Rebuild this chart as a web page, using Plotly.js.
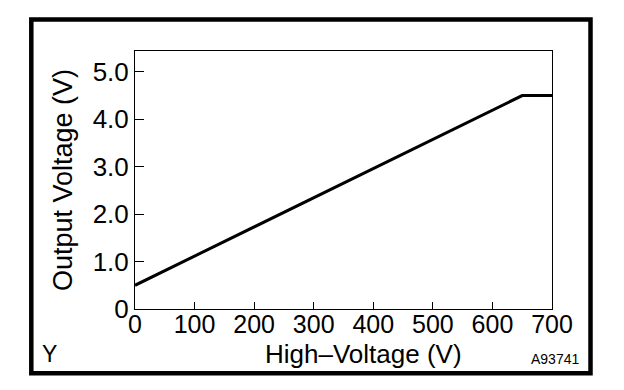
<!DOCTYPE html>
<html>
<head>
<meta charset="utf-8">
<script src="https://cdn.plot.ly/plotly-3.0.1.min.js"></script>
<style>
html,body{margin:0;padding:0;background:#fff;}
#chart{width:624px;height:390px;}
</style>
</head>
<body>
<div id="chart"></div>
<script>
// Data
const highVoltage = [0, 650, 700];
const outputVoltage = [0.5, 4.5, 4.5];
const xTickVals = [0, 100, 200, 300, 400, 500, 600, 700];
const xTickText = ["0", "100", "200", "300", "400", "500", "600", "700"];
const yTickVals = [0, 1, 2, 3, 4, 5];
const yTickText = ["0", "1.0", "2.0", "3.0", "4.0", "5.0"];
const xTitle = "High\u2013Voltage (V)";
const yTitle = "Output Voltage (V)";
const cornerLabel = "Y";
const figureCode = "A93741";

const L = 135, R = 72, T = 51, B = 81;
const W = 624, H = 390;
const pw = W - L - R, ph = H - T - B;
function px(x){ return (x - L) / pw; }
function py(y){ return (H - B - y) / ph; }

const font = "Liberation Sans, Arial, Helvetica, sans-serif";

const trace = {
  x: highVoltage,
  y: outputVoltage,
  type: "scatter",
  mode: "lines",
  line: {color: "#000", width: 3},
  hoverinfo: "skip"
};

const layout = {
  width: W, height: H,
  margin: {l: L, r: R, t: T, b: B},
  paper_bgcolor: "#fff",
  plot_bgcolor: "#fff",
  showlegend: false,
  font: {family: font, color: "#000", size: 26},
  xaxis: {
    range: [0, 700],
    tickvals: xTickVals,
    ticktext: xTickText,
    ticks: "inside",
    ticklen: 7,
    tickwidth: 1,
    tickcolor: "#000",
    ticklabelstandoff: -7,
    showline: true,
    linecolor: "#000",
    linewidth: 1,
    mirror: true,
    showgrid: false,
    zeroline: false,
    tickfont: {family: font, size: 25, color: "#000"},
    fixedrange: true
  },
  yaxis: {
    range: [0, 5.44],
    tickvals: yTickVals,
    ticktext: yTickText,
    ticks: "inside",
    ticklen: 9,
    tickwidth: 1,
    tickcolor: "#000",
    showline: true,
    linecolor: "#000",
    linewidth: 1,
    mirror: true,
    showgrid: false,
    zeroline: false,
    tickfont: {family: font, size: 26, color: "#000"},
    title: {text: yTitle, font: {family: font, size: 27, color: "#000"}, standoff: 12},
    fixedrange: true
  },
  annotations: [
    {text: xTitle, xref: "paper", yref: "paper", x: px(363), y: py(354),
     xanchor: "center", yanchor: "middle", showarrow: false,
     font: {family: font, size: 26, color: "#000"}},
    {text: cornerLabel, xref: "paper", yref: "paper", x: px(49), y: py(354),
     xanchor: "center", yanchor: "middle", showarrow: false,
     font: {family: font, size: 23, color: "#000"}},
    {text: figureCode, xref: "paper", yref: "paper", x: px(555), y: py(359),
     xanchor: "center", yanchor: "middle", showarrow: false,
     font: {family: font, size: 14, color: "#000"}}
  ],
  shapes: [
    {type: "rect", xref: "paper", yref: "paper",
     x0: px(31.3), x1: px(590.5), y0: py(373.3), y1: py(19.5),
     line: {color: "#000", width: 4.5}, fillcolor: "rgba(0,0,0,0)", layer: "above"}
  ]
};

Plotly.newPlot("chart", [trace], layout, {displayModeBar: false, staticPlot: true});
</script>
</body>
</html>
